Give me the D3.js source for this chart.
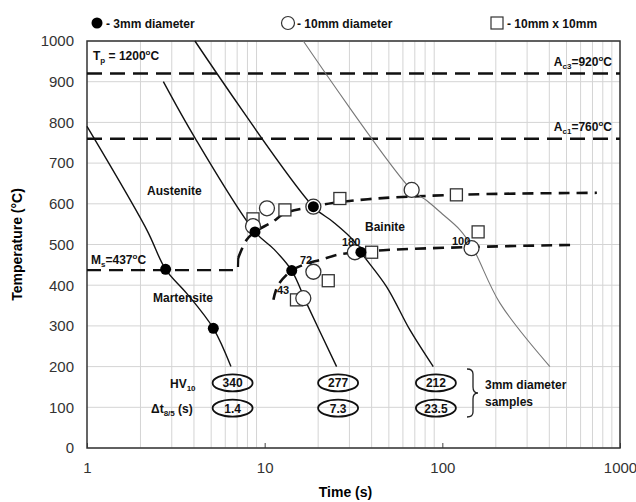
<!DOCTYPE html>
<html>
<head>
<meta charset="utf-8">
<script src="https://cdn.jsdelivr.net/npm/d3@7"></script>
<style>
body{margin:0;background:#fff;}
text{font-family:"Liberation Sans",Arial,sans-serif;}
</style>
</head>
<body>
<div id="plot"></div>
<script>
// cooling curves, [time (s), temperature (C)]
var curve3mm14 = [[1,790],[2.17,536],[2.77,439],[3.64,380],[5.14,294],[6.46,200]];
var curve3mm73 = [[2.69,900],[4.05,762],[8.82,531],[11.3,488],[14.2,436],[17.2,356],[25.4,200]];
var curve3mm235 = [[4.05,1000],[18.8,593],[24.2,556],[31.4,511],[34.8,481],[48.6,396],[65.7,290],[88.9,200]];
var curve10mm = [[16.5,1000],[67.2,634],[81.6,608],[100,575],[125.6,536],[148.6,491],[211,356],[403,200]];

// transformation lines
var msLine = [[1,437],[7.07,437],[7.1,467]];
var bainiteStart = [[7.1,467],[7.9,511],[8.8,531],[11.1,556],[13,577],[18.8,593],[24.2,602],[42.7,613],[88.5,620],[177,624],[741,627]];
var bainiteFinish = [[11.2,364],[11.9,400],[14.2,436],[17,452],[20.5,462],[26.5,476],[34.8,481],[46.5,486],[150,494],[545,499]];

// markers
var dots3mm = [[2.77,439],[5.14,294],[8.82,531],[14.2,436],[18.8,593],[34.8,481]];
var circles10mm = [[8.6,545],[10.3,589],[18.8,593],[16.5,368],[18.8,433],[32.2,481],[67.2,634],[146,491]];
var squares10x10 = [[8.6,563],[13.0,585],[26.5,613],[15.1,364],[22.8,411],[40.0,481],[120,622],[159,531]];

// hardness and t8/5 labels for the 3mm samples
var hvTimes = [6.6, 25.9, 92];
var hvValues = ['340','277','212'];
var dtValues = ['1.4','7.3','23.5'];
var rowTemps = [160, 98];

var xTicks = [1,10,100,1000];
var yTicks = [0,100,200,300,400,500,600,700,800,900,1000];

var margin = {t:41,r:16,b:54,l:87};
var width = 636-margin.l-margin.r,
	height = 502-margin.t-margin.b;

var svg = d3.select('#plot')
	.append('svg')
	.attr('width',636)
	.attr('height',502);

var plot = svg.append('g')
	.attr('transform','translate('+margin.l+','+margin.t+')');

var x = d3.scaleLog().domain([1,1000]).range([0,width]);
var y = d3.scaleLinear().domain([0,1000]).range([height,0]);

// grid
var minor = [];
for(var d=1; d<1000; d*=10){
	for(var k=2; k<10; k++){ minor.push(d*k); }
}
plot.selectAll('.vgrid')
	.data(minor)
	.enter()
	.append('line')
	.attr('x1',function(d){return x(d);})
	.attr('x2',function(d){return x(d);})
	.attr('y1',0).attr('y2',height)
	.style('stroke','#d4d4d4').style('stroke-width',1);
plot.selectAll('.hgrid')
	.data(yTicks)
	.enter()
	.append('line')
	.attr('x1',0).attr('x2',width)
	.attr('y1',function(d){return y(d);})
	.attr('y2',function(d){return y(d);})
	.style('stroke','#d4d4d4').style('stroke-width',1);

// axes
var xAxis = d3.axisBottom(x).tickValues(xTicks).tickFormat(d3.format('d')).tickSize(-5).tickPadding(14);
var yAxis = d3.axisLeft(y).tickValues(yTicks).tickFormat(d3.format('d')).tickSize(0).tickPadding(13);
plot.append('g').attr('transform','translate(0,'+height+')').call(xAxis)
	.call(function(g){g.select('.domain').remove();})
	.selectAll('text').style('font-size','15px').style('fill','#333');
plot.append('g').call(yAxis)
	.call(function(g){g.select('.domain').remove();})
	.selectAll('text').style('font-size','15px').style('fill','#333');
plot.selectAll('.tick line').style('stroke','#444');

plot.append('rect')
	.attr('width',width).attr('height',height)
	.style('fill','none').style('stroke','#333').style('stroke-width',1.5);

svg.append('text')
	.attr('transform','translate(22,'+(margin.t+height/2)+') rotate(-90)')
	.attr('text-anchor','middle')
	.style('font-size','14px').style('font-weight','bold')
	.text('Temperature (°C)');
svg.append('text')
	.attr('x',margin.l+width/2-8).attr('y',497)
	.attr('text-anchor','middle')
	.style('font-size','14px').style('font-weight','bold')
	.text('Time (s)');

var line = d3.line()
	.x(function(d){return x(d[0]);})
	.y(function(d){return y(d[1]);});
var smooth = d3.line()
	.x(function(d){return x(d[0]);})
	.y(function(d){return y(d[1]);})
	.curve(d3.curveCatmullRom);

// critical temperatures
[920,760].forEach(function(t){
	plot.append('line')
		.attr('x1',0).attr('x2',width)
		.attr('y1',y(t)).attr('y2',y(t))
		.style('stroke','#111').style('stroke-width',2.5)
		.style('stroke-dasharray','15,8');
});

plot.append('path').attr('d',line(msLine))
	.style('fill','none').style('stroke','#111').style('stroke-width',2.2)
	.style('stroke-dasharray','14,8');
plot.append('path').attr('d',smooth(bainiteStart))
	.style('fill','none').style('stroke','#111').style('stroke-width',2.6)
	.style('stroke-dasharray','11,7');
plot.append('path').attr('d',smooth(bainiteFinish))
	.style('fill','none').style('stroke','#111').style('stroke-width',2.6)
	.style('stroke-dasharray','11,7');

// cooling curves
[curve3mm14,curve3mm73,curve3mm235].forEach(function(c){
	plot.append('path').attr('d',smooth(c))
		.style('fill','none').style('stroke','#111').style('stroke-width',1.4);
});
plot.append('path').attr('d',smooth(curve10mm))
	.style('fill','none').style('stroke','#777').style('stroke-width',1.1);

// markers
plot.selectAll('.sq')
	.data(squares10x10)
	.enter()
	.append('rect')
	.attr('x',function(d){return x(d[0])-6;})
	.attr('y',function(d){return y(d[1])-6;})
	.attr('width',12).attr('height',12)
	.style('fill','#fff').style('stroke','#333').style('stroke-width',1.3);
plot.selectAll('.circ')
	.data(circles10mm)
	.enter()
	.append('circle')
	.attr('cx',function(d){return x(d[0]);})
	.attr('cy',function(d){return y(d[1]);})
	.attr('r',7.5)
	.style('fill','#fff').style('stroke','#333').style('stroke-width',1.3);
plot.selectAll('.dot')
	.data(dots3mm)
	.enter()
	.append('circle')
	.attr('cx',function(d){return x(d[0]);})
	.attr('cy',function(d){return y(d[1]);})
	.attr('r',5.5)
	.style('fill','#000');

// labels
function bold(g,xp,yp,size){
	return g.append('text').attr('x',xp).attr('y',yp)
		.style('font-size',size+'px').style('font-weight','bold').style('fill','#111');
}
function sub(t,s,size){
	t.append('tspan').attr('dy',3).style('font-size',size+'px').text(s);
	return t.append('tspan').attr('dy',-3);
}
function sup(t,s,size){
	t.append('tspan').attr('dy',-5).style('font-size',size+'px').text(s);
	return t.append('tspan').attr('dy',5);
}

var tp = bold(svg,93,60,12);
tp.append('tspan').text('T');
sub(tp,'p',8).text(' = 1200');
sup(tp,'o',8).text('C');

var ac3 = bold(svg,612,66,12).attr('text-anchor','end');
ac3.append('tspan').text('A');
sub(ac3,'c3',8).text('=920');
sup(ac3,'o',8).text('C');

var ac1 = bold(svg,612,131,12).attr('text-anchor','end');
ac1.append('tspan').text('A');
sub(ac1,'c1',8).text('=760');
sup(ac1,'o',8).text('C');

var ms = bold(svg,91,264,12);
ms.append('tspan').text('M');
sub(ms,'s',8).text('=437');
sup(ms,'o',8).text('C');

bold(svg,147,195,12).text('Austenite');
bold(svg,365,231,12).text('Bainite');
bold(svg,153,302,12).text('Martensite');
bold(svg,300,264,11).text('72');
bold(svg,277,294,11).text('43');
bold(svg,342,246,11).text('180');
bold(svg,452,245,11).text('100');

var hv = bold(svg,170,388,12);
hv.append('tspan').text('HV');
sub(hv,'10',8);
var dt = bold(svg,151,413,12);
dt.append('tspan').text('Δt');
sub(dt,'8/5',8).text(' (s)');

hvTimes.forEach(function(t,i){
	var cx = x(t);
	[hvValues[i],dtValues[i]].forEach(function(v,j){
		var cy = y(rowTemps[j]);
		plot.append('ellipse')
			.attr('cx',cx).attr('cy',cy)
			.attr('rx',20).attr('ry',8.5)
			.style('fill','none').style('stroke','#111').style('stroke-width',1.8);
		plot.append('text')
			.attr('x',cx).attr('y',cy+4.5)
			.attr('text-anchor','middle')
			.style('font-size','12px').style('font-weight','bold').style('fill','#111')
			.text(v);
	});
});

// brace
svg.append('path')
	.attr('d','M467,369 Q473,369 473,374 L473,387 Q473,393 478,393 Q473,393 473,399 L473,412 Q473,417 467,417')
	.style('fill','none').style('stroke','#222').style('stroke-width',1.3);
bold(svg,485,389,12).text('3mm diameter');
bold(svg,485,406,12).text('samples');

// legend
svg.append('circle').attr('cx',97).attr('cy',23).attr('r',5.5).style('fill','#000');
bold(svg,106,28,12).text('- 3mm diameter');
svg.append('circle').attr('cx',288).attr('cy',23).attr('r',6.5)
	.style('fill','#fff').style('stroke','#333').style('stroke-width',1.2);
bold(svg,297,28,12).text('- 10mm diameter');
svg.append('rect').attr('x',491).attr('y',17).attr('width',12).attr('height',12)
	.style('fill','#fff').style('stroke','#333').style('stroke-width',1.2);
bold(svg,507,28,12).text('- 10mm x 10mm');
</script>
</body>
</html>
